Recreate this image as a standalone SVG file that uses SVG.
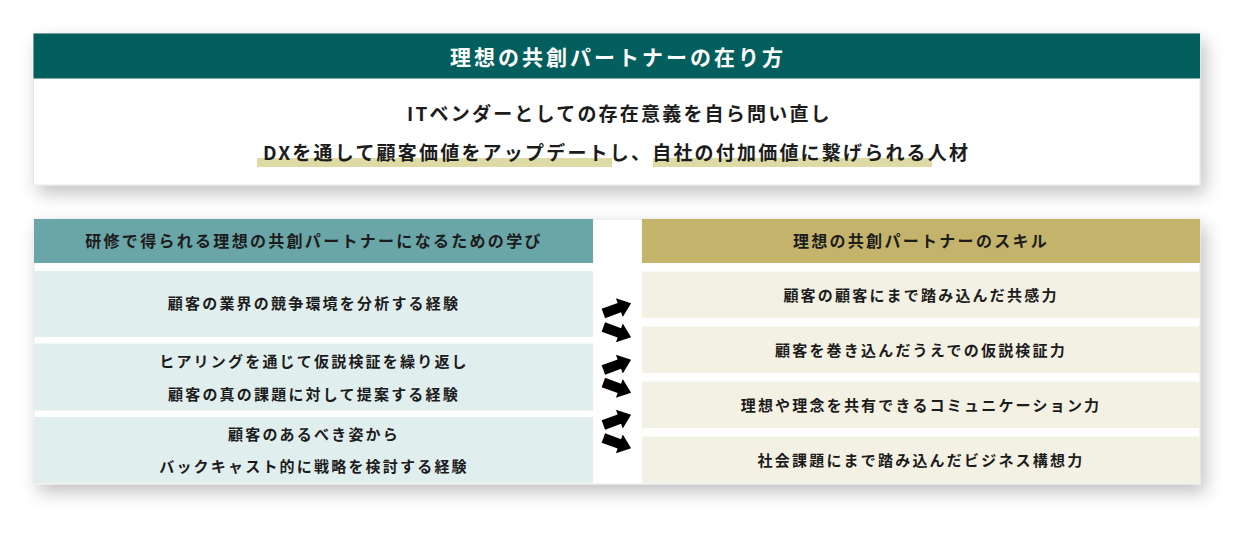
<svg xmlns="http://www.w3.org/2000/svg" width="1257" height="540" viewBox="0 0 1257 540">
  <defs>
    <filter id="shadow" x="-10%" y="-30%" width="120%" height="170%">
      <feDropShadow dx="5" dy="8" stdDeviation="9" flood-color="#000" flood-opacity="0.24"/>
    </filter>
    <polygon id="arrow" points="-14.5,-5 2.5,-5 2.5,-10 15,0 2.5,10 2.5,5 -14.5,5"/>
  </defs>
  <style>
    text { font-family: "Noto Sans CJK JP", "Noto Sans", sans-serif; font-weight: bold; fill: #1c1c1c; }
    .title { font-size: 21px; fill: #ffffff; letter-spacing: 3px; }
    .lead { font-size: 19px; letter-spacing: 2.2px; }
    .hd { font-size: 16px; letter-spacing: 2.3px; }
    .row { font-size: 15px; letter-spacing: 2.2px; }
    .card { fill: #ffffff; stroke: #e6e6e6; stroke-width: 1; filter: url(#shadow); }
    .lrow { fill: #e1eeee; }
    .rrow { fill: #f3f1e3; }
    .hl { fill: #dedaa6; }
    .arr { fill: #000000; }
  </style>

  <g id="top-card">
    <rect class="card" x="33.5" y="33.5" width="1166.5" height="151.5"/>
    <rect x="33.5" y="33.5" width="1166.5" height="45" fill="#035f5e"/>
    <text class="title" x="618" y="65" text-anchor="middle">理想の共創パートナーの在り方</text>
    <rect class="hl" x="257" y="158" width="355" height="9"/>
    <rect class="hl" x="653" y="158" width="279" height="9"/>
    <text class="lead" x="407" y="121">ITベンダーとしての存在意義を自ら問い直し</text>
    <text class="lead" x="263" y="160">DXを通して顧客価値をアップデートし、自社の付加価値に繋げられる人材</text>
  </g>

  <g id="lower-card">
    <rect class="card" x="34" y="219" width="1166" height="265"/>
  </g>

  <g id="left-header">
    <rect x="34" y="219" width="559" height="44" fill="#6aa5a7"/>
    <text class="hd" x="314" y="247" text-anchor="middle">研修で得られる理想の共創パートナーになるための学び</text>
  </g>
  <g id="left-1">
    <rect class="lrow" x="34" y="271" width="559" height="66"/>
    <text class="row" x="314" y="309" text-anchor="middle">顧客の業界の競争環境を分析する経験</text>
  </g>
  <g id="left-2">
    <rect class="lrow" x="34" y="343.5" width="559" height="67"/>
    <text class="row" x="314" y="367" text-anchor="middle">ヒアリングを通じて仮説検証を繰り返し</text>
    <text class="row" x="314" y="399.5" text-anchor="middle">顧客の真の課題に対して提案する経験</text>
  </g>
  <g id="left-3">
    <rect class="lrow" x="34" y="417" width="559" height="66"/>
    <text class="row" x="314" y="439.5" text-anchor="middle">顧客のあるべき姿から</text>
    <text class="row" x="314" y="472" text-anchor="middle">バックキャスト的に戦略を検討する経験</text>
  </g>

  <g id="right-header">
    <rect x="642" y="219" width="558" height="44" fill="#c3b36b"/>
    <text class="hd" x="921" y="247" text-anchor="middle">理想の共創パートナーのスキル</text>
  </g>
  <g id="right-1">
    <rect class="rrow" x="642" y="271.5" width="558" height="46.5"/>
    <text class="row" x="921" y="300.5" text-anchor="middle">顧客の顧客にまで踏み込んだ共感力</text>
  </g>
  <g id="right-2">
    <rect class="rrow" x="642" y="326.5" width="558" height="46.5"/>
    <text class="row" x="921" y="355.5" text-anchor="middle">顧客を巻き込んだうえでの仮説検証力</text>
  </g>
  <g id="right-3">
    <rect class="rrow" x="642" y="381.5" width="558" height="46.5"/>
    <text class="row" x="921" y="410.5" text-anchor="middle">理想や理念を共有できるコミュニケーション力</text>
  </g>
  <g id="right-4">
    <rect class="rrow" x="642" y="436.5" width="558" height="46.5"/>
    <text class="row" x="921" y="465.5" text-anchor="middle">社会課題にまで踏み込んだビジネス構想力</text>
  </g>

  <g id="connectors" class="arr">
    <use href="#arrow" transform="translate(617,308.5) rotate(-20)"/>
    <use href="#arrow" transform="translate(617,332) rotate(20)"/>
    <use href="#arrow" transform="translate(617,365) rotate(-20)"/>
    <use href="#arrow" transform="translate(617,387.5) rotate(20)"/>
    <use href="#arrow" transform="translate(617,420) rotate(-20)"/>
    <use href="#arrow" transform="translate(617,443) rotate(20)"/>
  </g>
</svg>
